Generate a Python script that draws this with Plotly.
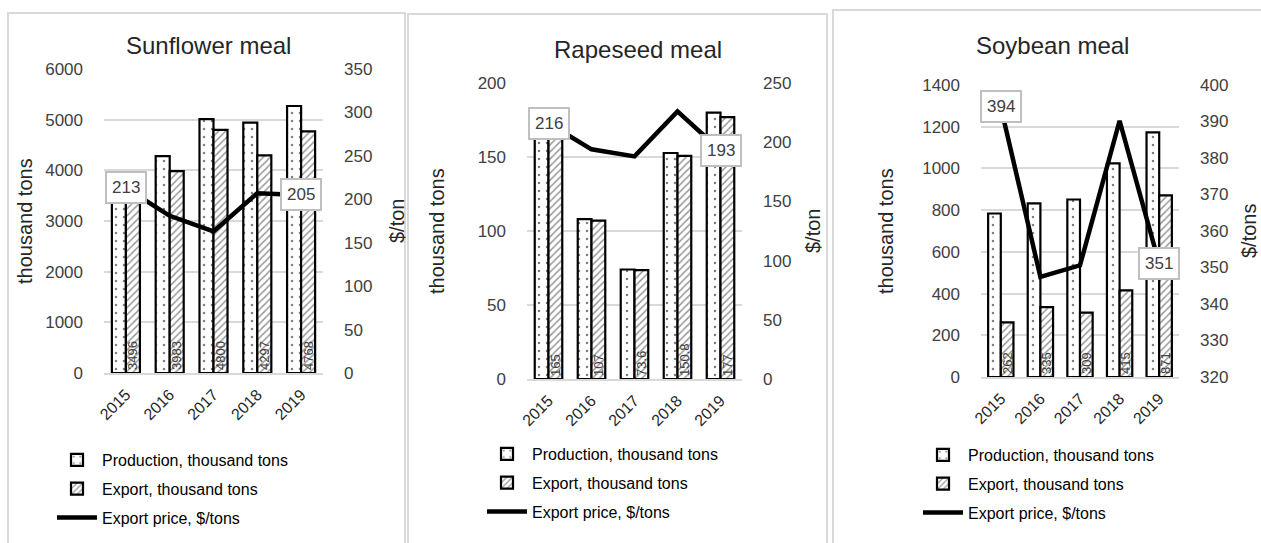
import plotly.graph_objects as go

years = ["2015", "2016", "2017", "2018", "2019"]

# Sunflower meal
sun_prod = [3950, 4280, 5010, 4940, 5270]
sun_exp = [3496, 3983, 4800, 4297, 4768]
sun_price = [213, 181, 163, 207, 205]

# Rapeseed meal
rape_prod = [168, 108, 74, 152.7, 180]
rape_exp = [165, 107, 73.6, 150.8, 177]
rape_price = [216, 194, 188, 226, 193]

# Soybean meal
soy_prod = [784, 832, 851, 1024, 1173]
soy_exp = [262, 335, 309, 415, 871]
soy_price = [394, 347.4, 350.6, 390.2, 351]

W, H = 1261, 543
FONT = "Liberation Sans, Arial, sans-serif"
TXT = "#404040"
GRID = "#d9d9d9"


def px_x(v):
    return v / W


def px_y(v):
    return 1 - v / H


panels = [
    dict(title="Sunflower meal", prod=sun_prod, exp=sun_exp, price=sun_price,
         x0=104, x1=323, ytop=69, ybot=373, left=(0, 6000, 1000), right=(0, 350, 50),
         rtitle="$/ton", ltitle_x=25, rtitle_x=397, title_xy=(208, 45),
         frame=(8, 13, 405), legend_x=52, legend_y=443),
    dict(title="Rapeseed meal", prod=rape_prod, exp=rape_exp, price=rape_price,
         x0=527, x1=742, ytop=83, ybot=379, left=(0, 200, 50), right=(0, 250, 50),
         rtitle="$/ton", ltitle_x=437, rtitle_x=813, title_xy=(638, 50),
         frame=(408, 14, 827), legend_x=482, legend_y=437),
    dict(title="Soybean meal", prod=soy_prod, exp=soy_exp, price=soy_price,
         x0=981, x1=1179, ytop=85, ybot=377, left=(0, 1400, 200), right=(320, 400, 10),
         rtitle="$/tons", ltitle_x=886, rtitle_x=1249, title_xy=(1052, 45),
         frame=(833, 10, 1275), legend_x=918, legend_y=438),
]

fig = go.Figure()
layout = dict(
    width=W, height=H, margin=dict(l=0, r=0, t=0, b=0, autoexpand=False),
    paper_bgcolor="white", plot_bgcolor="white",
    barmode="group", bargap=0.36, bargroupgap=0.0,
    font=dict(family=FONT, color=TXT, size=16),
    showlegend=True,
)
annotations = []
shapes = []

for i, p in enumerate(panels):
    n = i + 1
    xa = "x" if n == 1 else f"x{n}"
    ya = f"y{2 * n - 1}" if n > 1 else "y"
    yb = f"y{2 * n}"
    xkey = "xaxis" if n == 1 else f"xaxis{n}"
    yakey = "yaxis" if n == 1 else f"yaxis{2 * n - 1}"
    ybkey = f"yaxis{2 * n}"
    leg = "legend" if n == 1 else f"legend{n}"

    fig.add_trace(go.Bar(
        x=years, y=p["prod"], name="Production, thousand tons",
        xaxis=xa, yaxis=ya, legend=leg, legendgroup=f"p{n}",
        marker=dict(color="white", line=dict(color="black", width=2.2),
                    pattern=dict(shape=".", fgcolor="black", bgcolor="white",
                                 size=8, solidity=0.08)),
    ))
    fig.add_trace(go.Bar(
        x=years, y=p["exp"], name="Export, thousand tons",
        xaxis=xa, yaxis=ya, legend=leg, legendgroup=f"e{n}",
        text=[f"{v:g}" for v in p["exp"]], textposition="inside",
        insidetextanchor="start", textangle=-90, constraintext="none",
        textfont=dict(family=FONT, size=13, color=TXT),
        marker=dict(color="white", line=dict(color="black", width=2.2),
                    pattern=dict(shape="/", fgcolor="#333333", bgcolor="white",
                                 size=5, solidity=0.3)),
    ))
    fig.add_trace(go.Scatter(
        x=years, y=p["price"], name="Export price, $/tons", mode="lines",
        xaxis=xa, yaxis=yb, legend=leg, legendgroup=f"l{n}",
        line=dict(color="black", width=4.5),
    ))

    xdom = [px_x(p["x0"]), px_x(p["x1"])]
    ydom = [px_y(p["ybot"]), px_y(p["ytop"])]
    lo, hi, dt = p["left"]
    rlo, rhi, rdt = p["right"]

    layout[xkey] = dict(domain=xdom, anchor=ya, type="category", tickangle=-45,
                        categoryorder="array", categoryarray=years,
                        range=[-0.5, len(years) - 0.5], autorange=False,
                        showgrid=False, showline=True, linecolor=GRID, linewidth=2,
                        ticks="", tickfont=dict(size=16, color="#262626"), fixedrange=True,
                        ticklabelstandoff=4, automargin=False)
    layout[yakey] = dict(domain=ydom, anchor=xa, range=[lo, hi], dtick=dt, tick0=lo,
                         showgrid=True, gridcolor=GRID, gridwidth=1.5, zeroline=False,
                         showline=False, ticks="", ticklabelstandoff=20,
                         tickfont=dict(size=17, color=TXT), automargin=False)
    layout[ybkey] = dict(domain=ydom, anchor=xa, overlaying=ya, side="right",
                         range=[rlo, rhi], dtick=rdt, tick0=rlo, showgrid=False,
                         zeroline=False, showline=False, ticks="", ticklabelstandoff=20,
                         tickfont=dict(size=17, color=TXT), automargin=False)
    layout[leg] = dict(x=px_x(p["legend_x"]), y=px_y(p["legend_y"]), xanchor="left",
                       yanchor="top", orientation="v", bgcolor="rgba(0,0,0,0)",
                       font=dict(size=16, color="#000000"), itemwidth=40,
                       tracegroupgap=5, traceorder="grouped")

    # panel title and axis titles
    tx, ty = p["title_xy"]
    annotations.append(dict(text=p["title"], x=px_x(tx), y=px_y(ty), xref="paper",
                            yref="paper", xanchor="center", yanchor="middle",
                            showarrow=False, font=dict(size=24, color="#262626")))
    yc = (p["ytop"] + p["ybot"]) / 2
    annotations.append(dict(text="thousand tons", x=px_x(p["ltitle_x"]), y=px_y(yc),
                            xref="paper", yref="paper", xanchor="center", yanchor="middle",
                            showarrow=False, textangle=-90,
                            font=dict(size=20, color="#262626")))
    annotations.append(dict(text=p["rtitle"], x=px_x(p["rtitle_x"]), y=px_y(yc),
                            xref="paper", yref="paper", xanchor="center", yanchor="middle",
                            showarrow=False, textangle=-90,
                            font=dict(size=20, color="#262626")))

    # boxed price labels on the first and last year (category index positions)
    for k in (0, len(years) - 1):
        annotations.append(dict(text=f"{p['price'][k]:g}", x=k, y=p["price"][k],
                                xref=xa, yref=yb, showarrow=False, bgcolor="white",
                                xanchor="center", yanchor="middle",
                                bordercolor="#bfbfbf", borderwidth=2, borderpad=5,
                                font=dict(size=17, color=TXT)))

    fx0, fy0, fx1 = p["frame"]
    shapes.append(dict(type="path", xref="paper", yref="paper",
                       path=f"M {px_x(fx0)} {px_y(H + 5)} L {px_x(fx0)} {px_y(fy0)} "
                            f"L {px_x(fx1)} {px_y(fy0)} L {px_x(fx1)} {px_y(H + 5)}",
                       line=dict(color=GRID, width=2), layer="below"))

layout["annotations"] = annotations
layout["shapes"] = shapes
fig.update_layout(**layout)
fig.write_html("out.html")
